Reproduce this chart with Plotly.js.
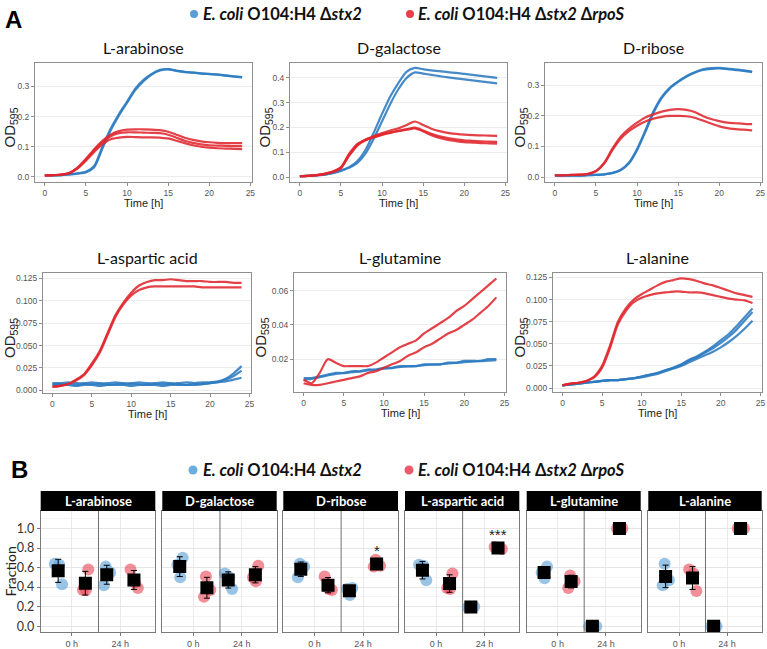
<!DOCTYPE html>
<html><head><meta charset="utf-8">
<script src="https://cdn.plot.ly/plotly-3.0.1.min.js"></script>
<style>body{margin:0;background:#fff}#chart{width:767px;height:649px}</style>
</head><body><div id="chart"></div>
<script>
// ---------- Panel A data (OD595 vs time) ----------
const hours = [0,1,2,3,4,5,6,7,8,9,10,11,12,13,14,15,16,17,18,19,20,21,22,23,24];
const carbonSources = ['L-arabinose','D-galactose','D-ribose','L-aspartic acid','L-glutamine','L-alanine'];

const ara_b1 = [0.005,0.005,0.006,0.008,0.012,0.017,0.036,0.100,0.160,0.208,0.250,0.293,0.322,0.342,0.355,0.358,0.352,0.348,0.346,0.344,0.342,0.340,0.337,0.334,0.331];
const ara_b2 = [0.005,0.005,0.006,0.008,0.011,0.015,0.032,0.094,0.154,0.203,0.246,0.288,0.318,0.340,0.353,0.357,0.353,0.349,0.346,0.343,0.341,0.339,0.336,0.333,0.330];
const ara_r1 = [0.005,0.006,0.008,0.014,0.032,0.060,0.092,0.120,0.140,0.152,0.157,0.158,0.158,0.157,0.155,0.150,0.140,0.130,0.123,0.118,0.115,0.113,0.112,0.112,0.112];
const ara_r2 = [0.005,0.006,0.008,0.013,0.030,0.057,0.088,0.115,0.135,0.145,0.148,0.148,0.147,0.146,0.145,0.140,0.130,0.120,0.113,0.108,0.105,0.104,0.103,0.102,0.102];
const ara_r3 = [0.005,0.006,0.007,0.012,0.028,0.054,0.083,0.108,0.125,0.130,0.133,0.132,0.131,0.131,0.130,0.128,0.120,0.112,0.105,0.100,0.097,0.095,0.094,0.093,0.092];

const gal_b1 = [0.004,0.005,0.007,0.010,0.017,0.027,0.040,0.065,0.110,0.180,0.255,0.325,0.380,0.425,0.440,0.435,0.430,0.427,0.423,0.420,0.416,0.412,0.408,0.404,0.400];
const gal_b2 = [0.004,0.005,0.007,0.010,0.016,0.025,0.037,0.057,0.095,0.155,0.225,0.295,0.355,0.400,0.422,0.417,0.412,0.407,0.402,0.398,0.394,0.390,0.386,0.382,0.378];
const gal_r1 = [0.004,0.005,0.008,0.013,0.022,0.040,0.094,0.134,0.152,0.165,0.177,0.188,0.197,0.210,0.224,0.210,0.195,0.185,0.178,0.174,0.171,0.169,0.168,0.167,0.166];
const gal_r2 = [0.004,0.005,0.008,0.013,0.021,0.038,0.090,0.130,0.150,0.162,0.172,0.180,0.187,0.193,0.199,0.188,0.174,0.164,0.157,0.152,0.148,0.146,0.144,0.143,0.142];
const gal_r3 = [0.004,0.005,0.008,0.012,0.020,0.036,0.086,0.127,0.148,0.160,0.170,0.178,0.185,0.191,0.196,0.184,0.169,0.158,0.150,0.145,0.141,0.139,0.137,0.136,0.135];

const rib_b1 = [0.005,0.005,0.005,0.005,0.006,0.007,0.009,0.014,0.024,0.047,0.092,0.152,0.215,0.262,0.293,0.313,0.330,0.343,0.352,0.356,0.357,0.355,0.352,0.349,0.345];
const rib_b2 = [0.005,0.005,0.005,0.005,0.006,0.007,0.009,0.013,0.022,0.044,0.088,0.147,0.210,0.258,0.290,0.311,0.328,0.341,0.350,0.354,0.355,0.353,0.350,0.347,0.343];
const rib_r1 = [0.006,0.006,0.007,0.008,0.011,0.020,0.047,0.093,0.132,0.158,0.178,0.195,0.205,0.214,0.220,0.222,0.220,0.213,0.200,0.190,0.183,0.178,0.176,0.174,0.173];
const rib_r2 = [0.006,0.006,0.007,0.008,0.010,0.019,0.044,0.088,0.125,0.150,0.168,0.182,0.191,0.197,0.200,0.200,0.199,0.194,0.185,0.175,0.166,0.160,0.157,0.155,0.153];

const asp_b1 = [0.008,0.008,0.009,0.008,0.008,0.009,0.008,0.008,0.009,0.008,0.008,0.009,0.008,0.008,0.009,0.008,0.008,0.009,0.008,0.009,0.009,0.010,0.013,0.019,0.027];
const asp_b2 = [0.007,0.007,0.007,0.006,0.007,0.007,0.007,0.006,0.007,0.007,0.007,0.007,0.006,0.007,0.007,0.007,0.007,0.006,0.007,0.007,0.008,0.009,0.012,0.016,0.022];
const asp_b3 = [0.006,0.006,0.006,0.005,0.006,0.006,0.005,0.006,0.006,0.006,0.005,0.006,0.006,0.006,0.005,0.006,0.006,0.006,0.006,0.007,0.008,0.009,0.010,0.012,0.014];
const asp_r1 = [0.004,0.005,0.007,0.012,0.018,0.030,0.044,0.064,0.084,0.098,0.109,0.117,0.121,0.123,0.123,0.124,0.123,0.122,0.122,0.122,0.121,0.121,0.121,0.120,0.120];
const asp_r2 = [0.004,0.005,0.007,0.011,0.017,0.028,0.042,0.062,0.082,0.096,0.106,0.112,0.115,0.116,0.116,0.116,0.116,0.116,0.116,0.115,0.115,0.115,0.115,0.115,0.115];

const glu_b1 = [0.009,0.009,0.010,0.011,0.012,0.012,0.013,0.013,0.014,0.014,0.015,0.015,0.016,0.016,0.016,0.017,0.017,0.017,0.018,0.018,0.019,0.019,0.019,0.020,0.020];
const glu_b2 = [0.008,0.0085,0.0095,0.0105,0.0115,0.0118,0.0125,0.0128,0.0135,0.0138,0.0145,0.0148,0.0155,0.0158,0.016,0.0165,0.0168,0.017,0.0175,0.0178,0.0183,0.0186,0.0188,0.0192,0.0195];
const glu_r1 = [0.008,0.006,0.012,0.020,0.018,0.016,0.016,0.016,0.016,0.018,0.021,0.024,0.027,0.029,0.031,0.035,0.038,0.041,0.044,0.048,0.051,0.055,0.059,0.063,0.067];
const glu_r2 = [0.006,0.005,0.005,0.006,0.007,0.008,0.009,0.010,0.012,0.013,0.015,0.017,0.019,0.022,0.024,0.027,0.029,0.032,0.035,0.037,0.040,0.043,0.047,0.051,0.056];

const ala_b1 = [0.003,0.004,0.005,0.006,0.007,0.008,0.009,0.009,0.010,0.011,0.013,0.015,0.017,0.020,0.023,0.027,0.032,0.036,0.041,0.047,0.054,0.061,0.070,0.080,0.090];
const ala_b2 = [0.003,0.004,0.005,0.006,0.007,0.008,0.009,0.009,0.010,0.011,0.013,0.015,0.017,0.020,0.023,0.026,0.031,0.035,0.040,0.045,0.051,0.058,0.066,0.076,0.086];
const ala_b3 = [0.003,0.004,0.005,0.006,0.007,0.008,0.009,0.009,0.010,0.011,0.012,0.014,0.016,0.019,0.022,0.025,0.029,0.033,0.037,0.041,0.046,0.052,0.059,0.067,0.076];
const ala_r1 = [0.003,0.005,0.006,0.008,0.013,0.025,0.048,0.075,0.090,0.100,0.106,0.111,0.116,0.120,0.122,0.124,0.123,0.121,0.118,0.116,0.113,0.110,0.107,0.105,0.103];
const ala_r2 = [0.003,0.005,0.006,0.008,0.012,0.023,0.045,0.072,0.087,0.097,0.102,0.105,0.107,0.108,0.109,0.109,0.108,0.108,0.107,0.105,0.103,0.101,0.100,0.099,0.096];

// ---------- Panel B data (fraction of each strain, 3 replicates) ----------
const timeLabels = ['0 h','24 h'];
const frac_blue_0h  = [[0.64,0.63,0.43],[0.70,0.63,0.50],[0.64,0.61,0.50],[0.63,0.62,0.47],[0.61,0.55,0.49],[0.64,0.47,0.42]];
const frac_red_0h   = [[0.58,0.37,0.37],[0.51,0.37,0.30],[0.51,0.38,0.37],[0.54,0.39,0.38],[0.52,0.46,0.39],[0.58,0.54,0.36]];
const frac_blue_24h = [[0.61,0.55,0.42],[0.54,0.50,0.38],[0.39,0.38,0.32],[0.20,0.20,0.19],[0.00,0.00,0.00],[0.00,0.00,0.00]];
const frac_red_24h  = [[0.58,0.45,0.39],[0.62,0.50,0.46],[0.68,0.62,0.61],[0.81,0.80,0.79],[1.00,1.00,1.00],[1.00,1.00,1.00]];
const signif = ['', '', '*', '***', '', ''];

// ---------- styles / layout ----------
const W = 767, H = 649;
const BLUE = '#2c7bc0', RED = '#e0262d';
const BLUE_PT = 'rgba(92,160,214,0.62)', RED_PT = 'rgba(232,72,88,0.62)';
const FONT_C = 'Lato, "Open Sans", sans-serif';
const FONT_H = '"Liberation Sans", Arial, sans-serif';
const px = p => p / W, py = p => 1 - p / H;

const odBlue = [[ara_b1,ara_b2],[gal_b1,gal_b2],[rib_b1,rib_b2],[asp_b1,asp_b2,asp_b3],[glu_b1,glu_b2],[ala_b1,ala_b2,ala_b3]];
const odRed  = [[ara_r1,ara_r2,ara_r3],[gal_r1,gal_r2,gal_r3],[rib_r1,rib_r2],[asp_r1,asp_r2],[glu_r1,glu_r2],[ala_r1,ala_r2]];

const topBoxes = [
  {x0:35, x1:252, y0:63, y1:182, yr:[-0.017,0.378], dt:0.1, fmt:'.1f', odx:10},
  {x0:290,x1:507, y0:63, y1:182, yr:[-0.02,0.46],  dt:0.1, fmt:'.1f', odx:265},
  {x0:545,x1:762, y0:63, y1:182, yr:[-0.016,0.373],dt:0.1, fmt:'.1f', odx:520},
  {x0:43, x1:251, y0:273,y1:393, yr:[-0.003,0.131],dt:0.025,fmt:'.3f', odx:10},
  {x0:294,x1:506, y0:273,y1:392, yr:[0.0009,0.0702],dt:0.02,fmt:'.2f', odx:261},
  {x0:553,x1:762, y0:273,y1:392, yr:[-0.0045,0.13],dt:0.025,fmt:'.3f', odx:520}
];
const facetX = [[40.7,155.3],[162.3,276.7],[283.3,398],[405,519.3],[526.7,640.7],[648.3,761.7]];
const FB_TOP = 511, FB_BOT = 632, STRIP_TOP = 491;
const DODGE = 0.28, DIVIDER = 1.55;
const JIT = [[-0.07,0.02,0.08],[0.06,-0.05,0.01],[-0.02,0.07,-0.06]];

const traces = [];
const layout = {
  width: W, height: H, margin:{l:0,r:0,t:0,b:0},
  paper_bgcolor:'#fff', plot_bgcolor:'#fff', showlegend:false,
  shapes:[], annotations:[]
};

// Panel A
topBoxes.forEach((b, i) => {
  const n = i + 1, xs = n === 1 ? '' : n, xa = 'x' + xs, ya = 'y' + xs;
  odBlue[i].forEach(rep => traces.push({type:'scatter', mode:'lines', x:hours, y:rep, xaxis:xa, yaxis:ya,
    line:{color:BLUE, width:2.2, shape:'spline', smoothing:0.7}, opacity:0.88, hoverinfo:'skip'}));
  odRed[i].forEach(rep => traces.push({type:'scatter', mode:'lines', x:hours, y:rep, xaxis:xa, yaxis:ya,
    line:{color:RED, width:2.2, shape:'spline', smoothing:0.7}, opacity:0.88, hoverinfo:'skip'}));
  layout['xaxis' + xs] = {domain:[px(b.x0), px(b.x1)], anchor:ya, range:[-1.2,25.2], tickvals:[0,5,10,15,20,25],
    showgrid:false, zeroline:false, showline:true, mirror:true, linecolor:'#8f8f8f', linewidth:1,
    ticks:'outside', ticklen:3, tickcolor:'#8f8f8f', tickfont:{family:FONT_H, size:8.5, color:'#555'}};
  layout['yaxis' + xs] = {domain:[py(b.y1), py(b.y0)], anchor:xa, range:b.yr, tick0:0, dtick:b.dt, tickformat:b.fmt,
    showgrid:true, gridcolor:'#ececec', gridwidth:1, zeroline:false, showline:true, mirror:true, linecolor:'#8f8f8f', linewidth:1,
    ticks:'outside', ticklen:3, tickcolor:'#8f8f8f', tickfont:{family:FONT_H, size:8.5, color:'#555'}};
  const cx = (b.x0 + b.x1) / 2, cy = (b.y0 + b.y1) / 2;
  layout.annotations.push({text:carbonSources[i], xref:'paper', yref:'paper', x:px(cx), y:py(b.y0 - 16), showarrow:false,
    xanchor:'center', yanchor:'middle', font:{family:FONT_C, size:16, color:'#111'}});
  layout.annotations.push({text:'Time [h]', xref:'paper', yref:'paper', x:px(cx), y:py(b.y1 + 21), showarrow:false,
    xanchor:'center', yanchor:'middle', font:{family:FONT_H, size:11, color:'#222'}});
  layout.annotations.push({text:'OD<sub>595</sub>', xref:'paper', yref:'paper', x:px(b.odx), y:py(cy + 5), showarrow:false,
    textangle:-90, xanchor:'center', yanchor:'middle', font:{family:FONT_H, size:15, color:'#222'}});
});

// Panel B
const mean = a => a.reduce((s, v) => s + v, 0) / a.length;
const sd = a => { const m = mean(a); return Math.sqrt(a.reduce((s, v) => s + (v - m) * (v - m), 0) / (a.length - 1)); };

facetX.forEach((fx, i) => {
  const n = 7 + i, xa = 'x' + n, ya = 'y' + n;
  const groups = [
    {vals:frac_blue_0h[i],  pos:1 - DODGE, col:BLUE_PT},
    {vals:frac_red_0h[i],   pos:1 + DODGE, col:RED_PT},
    {vals:frac_blue_24h[i], pos:2 - DODGE, col:BLUE_PT},
    {vals:frac_red_24h[i],  pos:2 + DODGE, col:RED_PT}
  ];
  groups.forEach((g, k) => {
    const jit = JIT[(i + k) % 3];
    traces.push({type:'scatter', mode:'markers', xaxis:xa, yaxis:ya, hoverinfo:'skip',
      x:g.vals.map((v, r) => g.pos + jit[r]), y:g.vals,
      marker:{size:12, color:g.col, line:{width:0}}});
  });
  groups.forEach(g => {
    traces.push({type:'scatter', mode:'markers', xaxis:xa, yaxis:ya, hoverinfo:'skip',
      x:[g.pos], y:[mean(g.vals)],
      error_y:{type:'data', array:[sd(g.vals)], visible:true, color:'#000', thickness:1, width:3},
      marker:{size:13, symbol:'square', color:'#000'}});
  });
  layout['xaxis' + n] = {domain:[px(fx[0]), px(fx[1])], anchor:ya, range:[0.36,2.72], tickvals:[1,2], ticktext:timeLabels,
    showgrid:true, gridcolor:'#ebebeb', zeroline:false, showline:true, mirror:true, linecolor:'#7a7a7a', linewidth:1,
    ticks:'outside', ticklen:3, tickcolor:'#7a7a7a', tickfont:{family:FONT_H, size:9, color:'#555'}};
  layout['yaxis' + n] = {domain:[py(FB_BOT), py(FB_TOP)], anchor:xa, range:[-0.06,1.18], tick0:0, dtick:0.2, tickformat:'.1f',
    showticklabels: i === 0, showgrid:true, gridcolor:'#e6e6e6', zeroline:false,
    minor:{dtick:0.1, showgrid:true, gridcolor:'#f4f4f4'},
    showline:true, mirror:true, linecolor:'#7a7a7a', linewidth:1,
    ticks: i === 0 ? 'outside' : '', ticklen:3, tickcolor:'#7a7a7a', tickfont:{family:FONT_C, size:12.5, color:'#333'}};
  layout.shapes.push({type:'line', xref:xa, yref:ya + ' domain', x0:DIVIDER, x1:DIVIDER, y0:0, y1:1, line:{color:'#707070', width:1}});
  layout.shapes.push({type:'rect', xref:'paper', yref:'paper', x0:px(fx[0]), x1:px(fx[1]), y0:py(FB_TOP), y1:py(STRIP_TOP),
    fillcolor:'#000', line:{width:0}});
  layout.annotations.push({text:'<b>' + carbonSources[i] + '</b>', xref:'paper', yref:'paper', x:px((fx[0] + fx[1]) / 2),
    y:py((STRIP_TOP + FB_TOP) / 2), showarrow:false, xanchor:'center', yanchor:'middle', font:{family:FONT_C, size:13, color:'#fff'}});
  if (signif[i]) {
    layout.annotations.push({text:signif[i], xref:xa, yref:ya, x:2 + DODGE, y:mean(frac_red_24h[i]) + 0.14,
      showarrow:false, xanchor:'center', yanchor:'middle', font:{family:FONT_H, size:15, color:'#222'}});
  }
});

layout.annotations.push({text:'Fraction', xref:'paper', yref:'paper', x:px(10), y:py((FB_TOP + FB_BOT) / 2), showarrow:false,
  textangle:-90, xanchor:'center', yanchor:'middle', font:{family:FONT_C, size:14, color:'#222'}});

// Panel letters
layout.annotations.push({text:'<b>A</b>', xref:'paper', yref:'paper', x:px(3), y:py(20), showarrow:false,
  xanchor:'left', yanchor:'middle', font:{family:FONT_H, size:24, color:'#000'}});
layout.annotations.push({text:'<b>B</b>', xref:'paper', yref:'paper', x:px(9), y:py(469), showarrow:false,
  xanchor:'left', yanchor:'middle', font:{family:FONT_H, size:24, color:'#000'}});

// Legends
const legBlue = '<b><i>E. coli</i> O104:H4 Δ<i>stx2</i></b>';
const legRed  = '<b><i>E. coli</i> O104:H4 Δ<i>stx2</i> Δ<i>rpoS</i></b>';
function legendItem(cx, cy, r, color, text, tx, size) {
  layout.shapes.push({type:'circle', xref:'paper', yref:'paper', x0:px(cx - r), x1:px(cx + r), y0:py(cy + r), y1:py(cy - r),
    fillcolor:color, line:{width:0}});
  layout.annotations.push({text:text, xref:'paper', yref:'paper', x:px(tx), y:py(cy), showarrow:false,
    xanchor:'left', yanchor:'middle', font:{family:FONT_C, size:size, color:'#111'}});
}
legendItem(194, 14, 4, '#5a9ed6', legBlue, 201, 16.5);
legendItem(410, 14, 4, '#e4404c', legRed, 416, 16.5);
legendItem(193, 470, 4.5, '#6aaee0', legBlue, 201, 16.5);
legendItem(409, 470, 4.5, '#ea5a68', legRed, 416, 16.5);

Plotly.newPlot('chart', traces, layout, {staticPlot:true, displayModeBar:false});
</script>
</body></html>
